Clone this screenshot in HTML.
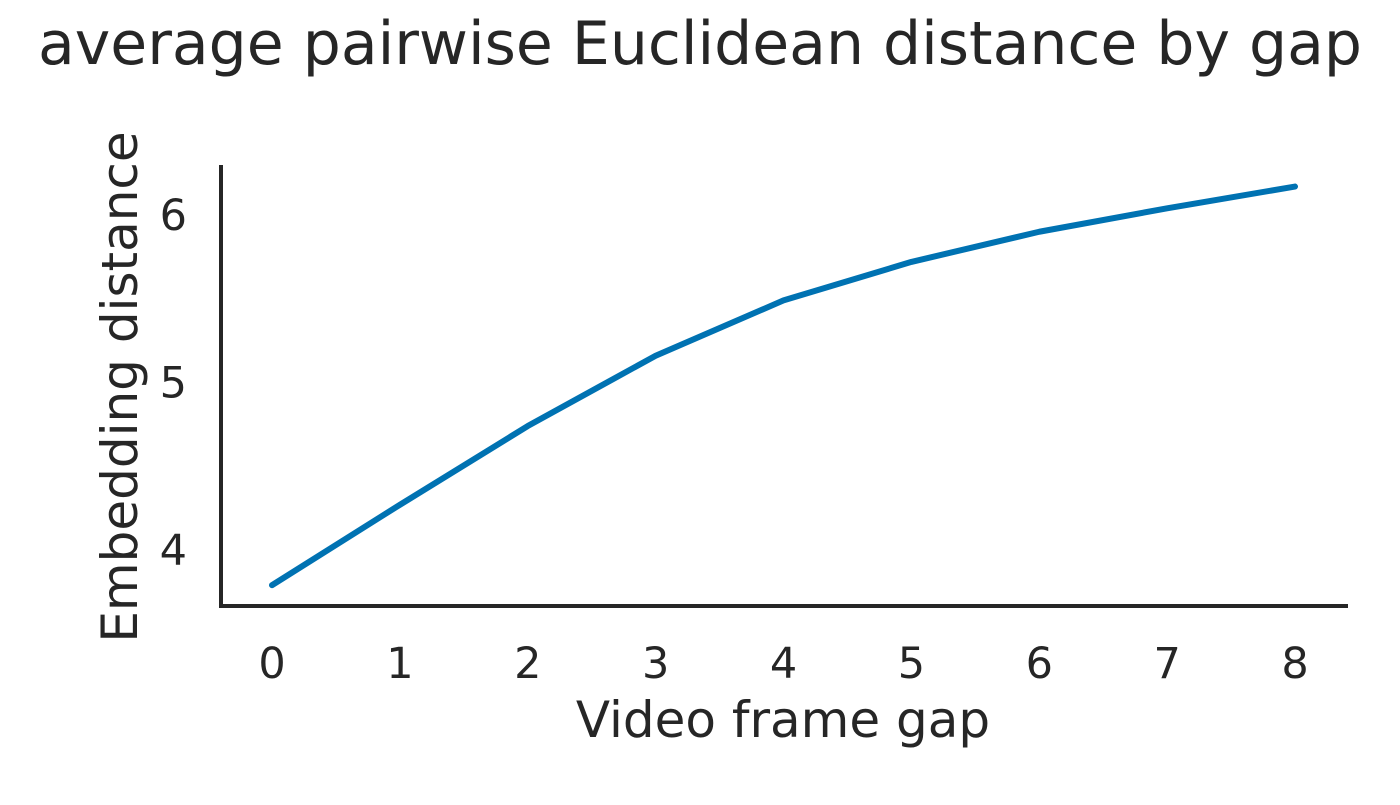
<!DOCTYPE html>
<html><head><meta charset="utf-8"><style>
body{margin:0;background:#fff;}
svg text{font-family:"DejaVu Sans","Liberation Sans",sans-serif;fill:#262626;}
</style></head><body>
<svg width="1400" height="800" viewBox="0 0 1400 800">
<text x="700" y="64" text-anchor="middle" font-size="60">average pairwise Euclidean distance by gap</text>
<g id="ticks"></g>
<line x1="221" y1="165" x2="221" y2="608" stroke="#262626" stroke-width="4"/>
<line x1="219" y1="606" x2="1348" y2="606" stroke="#262626" stroke-width="4"/>
<path id="line" fill="none" stroke="#0072b2" stroke-width="6" stroke-linejoin="round" stroke-linecap="round"/>
<text x="783" y="737" text-anchor="middle" font-size="50">Video frame gap</text>
<text transform="translate(137,387) rotate(-90)" text-anchor="middle" font-size="50">Embedding distance</text>
</svg>
<script>
const gaps=[0,1,2,3,4,5,6,7,8];
const distances=[3.79,4.27,4.74,5.16,5.49,5.72,5.90,6.04,6.17];
const yTicks=[4,5,6];
const xTicks=[0,1,2,3,4,5,6,7,8];
const sx=v=>272+v*(1295-272)/8;
const sy=v=>550-(v-4)*167.5;
const ns="http://www.w3.org/2000/svg";
const g=document.getElementById('ticks');
xTicks.forEach(t=>{const e=document.createElementNS(ns,'text');
e.setAttribute('x',sx(t));e.setAttribute('y',678);e.setAttribute('text-anchor','middle');e.setAttribute('font-size','43');


e.textContent=t;g.appendChild(e);});
yTicks.forEach(t=>{const e=document.createElementNS(ns,'text');
e.setAttribute('x',187);e.setAttribute('y',sy(t)+15);e.setAttribute('text-anchor','end');e.setAttribute('font-size','43');


e.textContent=t;g.appendChild(e);});
document.getElementById('line').setAttribute('d',gaps.map((x,i)=>(i?'L':'M')+sx(x)+' '+sy(distances[i])).join(' '));
</script>
</body></html>
